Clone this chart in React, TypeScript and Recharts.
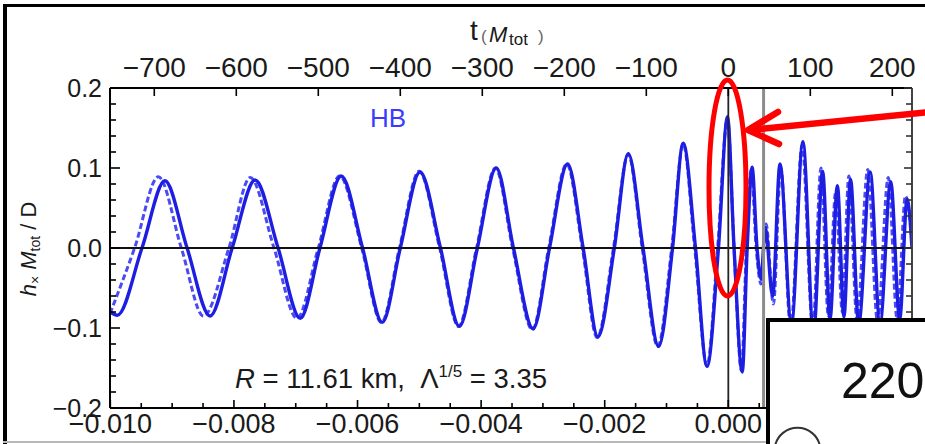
import React from "react";
import { LineChart, Line, XAxis, YAxis, ReferenceLine } from "recharts";

// 時間軸: 上は t (M_tot), 下は秒。同じ座標を共有する
const SEC_PER_M = 1.327e-5;
const T_DOMAIN: [number, number] = [-754, 224];
const H_DOMAIN: [number, number] = [-0.2, 0.2];

const topTicks = [-700, -600, -500, -400, -300, -200, -100, 0, 100, 200];
const topLabels = ["\u2212700", "\u2212600", "\u2212500", "\u2212400", "\u2212300", "\u2212200", "\u2212100", "0", "100", "200"];

const bottomTicksSec = [
  -0.01, -0.0095, -0.009, -0.0085, -0.008, -0.0075, -0.007, -0.0065, -0.006, -0.0055, -0.005,
  -0.0045, -0.004, -0.0035, -0.003, -0.0025, -0.002, -0.0015, -0.001, -0.0005, 0, 0.0005, 0.001,
  0.0015, 0.002,
];
const bottomMajorSec = [-0.01, -0.008, -0.006, -0.004, -0.002, 0, 0.002];
const bottomLabels = ["\u22120.010", "\u22120.008", "\u22120.006", "\u22120.004", "\u22120.002", "0.000", "0.002"];

const yTicks = [
  -0.2, -0.18, -0.16, -0.14, -0.12, -0.1, -0.08, -0.06, -0.04, -0.02, 0, 0.02, 0.04, 0.06, 0.08,
  0.1, 0.12, 0.14, 0.16, 0.18, 0.2,
];
const yMajor = [-0.2, -0.1, 0, 0.1, 0.2];
const yLabels = ["\u22120.2", "\u22120.1", "0.0", "0.1", "0.2"];

// 実線の波形 (t, h)
const solidT = [
  -754, -745, -715, -687, -660, -632, -605, -577, -549, -522, -498, -472, -446, -422, -400, -376,
  -351, -328, -306, -283, -262, -238, -218, -196, -177, -159, -139, -122, -104, -85, -68, -55, -40,
  -26, -12, -1, 7, 17, 23, 29, 35, 40, 45, 54, 63, 77, 91, 104, 115, 124, 133, 141, 149, 159, 173,
  185, 198, 209, 218, 224,
];
const solidH = [
  -0.08, -0.084, 0, 0.084, 0, -0.085, 0, 0.085, 0, -0.088, 0, 0.09, 0, -0.093, 0, 0.095, 0, -0.098,
  0, 0.1, 0, -0.101, 0, 0.105, 0, -0.111, 0, 0.118, 0, -0.123, 0, 0.131, 0, -0.148, 0, 0.164, 0,
  -0.155, 0, 0.101, 0, -0.039, 0.026, -0.06, 0.105, -0.095, 0.133, -0.107, 0.096, -0.089, 0.078,
  -0.086, 0.086, -0.095, 0.095, -0.095, 0.083, -0.089, 0.061, 0,
];

// 点線の波形 (t, h)
const dashedT = [
  -754, -724, -695, -667, -640, -609, -583, -554, -526, -500, -474, -447, -423, -401, -377, -352,
  -329, -307, -284, -263, -239, -219, -197, -178, -160, -140, -122, -105, -86, -69, -55, -41, -26,
  -13, -1, 7, 16, 22, 28, 34, 40, 46, 55, 64, 76, 90, 103, 113, 122, 131, 139, 147, 157, 170, 182,
  195, 206, 216, 224,
];
const dashedH = [
  -0.082, 0, 0.089, 0, -0.085, 0, 0.088, 0, -0.088, 0, 0.09, 0, -0.093, 0, 0.096, 0, -0.098, 0, 0.1,
  0, -0.102, 0, 0.105, 0, -0.112, 0, 0.117, 0, -0.123, 0, 0.13, 0, -0.147, 0, 0.162, 0, -0.153, 0,
  0.098, 0, -0.045, 0.03, -0.07, 0.1, -0.1, 0.128, -0.1, 0.1, -0.085, 0.07, -0.08, 0.09, -0.09,
  0.098, -0.092, 0.088, -0.09, 0.065, 0.01,
];

const solidData = solidT.map((t, i) => ({ t, h: solidH[i] }));
const dashedData = dashedT.map((t, i) => ({ t, h: dashedH[i] }));

const FONT = "'Liberation Sans', Arial, Helvetica, sans-serif";
const TXT = "#1a1a1a";

const TopTick = (p: any) => {
  const { x, y, payload } = p;
  const i = topTicks.indexOf(payload.value);
  return (
    <g>
      <line x1={x} x2={x} y1={y} y2={y + 8} stroke="#000" strokeWidth={1.6} />
      <text x={x} y={y - 11} textAnchor="middle" fontSize={28} fontFamily={FONT} fill={TXT}>
        {i >= 0 ? topLabels[i] : ""}
      </text>
    </g>
  );
};

const BottomTick = (p: any) => {
  const { x, y, payload } = p;
  const s = payload.value * SEC_PER_M;
  const j = bottomMajorSec.findIndex((m) => Math.abs(m - s) < 1e-7);
  const major = j >= 0;
  return (
    <g>
      <line x1={x} x2={x} y1={y} y2={y - (major ? 8 : 5)} stroke="#000" strokeWidth={1.6} />
      {major && (
        <text x={x} y={y + 25} textAnchor="middle" fontSize={27} fontFamily={FONT} fill={TXT}>
          {bottomLabels[j]}
        </text>
      )}
    </g>
  );
};

const LeftTick = (p: any) => {
  const { x, y, payload } = p;
  const j = yMajor.indexOf(payload.value);
  const major = j >= 0;
  return (
    <g>
      <line x1={x} x2={x + (major ? 10 : 6)} y1={y} y2={y} stroke="#000" strokeWidth={1.6} />
      {major && (
        <text x={x - 8} y={y + 9} textAnchor="end" fontSize={25} fontFamily={FONT} fill={TXT}>
          {yLabels[j]}
        </text>
      )}
    </g>
  );
};

const RightTick = (p: any) => {
  const { x, y, payload } = p;
  const major = yMajor.indexOf(payload.value) >= 0;
  return <line x1={x} x2={x - (major ? 8 : 6)} y1={y} y2={y} stroke="#333" strokeWidth={1.6} />;
};

const App = () => {
  return (
    <div style={{ position: "absolute", left: 0, top: 0, width: 925, height: 444, background: "#fff" }}>
      <LineChart width={925} height={444} margin={{ top: 48, right: 3, bottom: 6, left: 50 }}>
        <XAxis
          xAxisId="top"
          orientation="top"
          type="number"
          dataKey="t"
          domain={T_DOMAIN}
          allowDataOverflow
          ticks={topTicks}
          interval={0}
          height={40}
          tickSize={0}
          tickMargin={0}
          tickLine={false}
          axisLine={{ stroke: "#000", strokeWidth: 2 }}
          tick={<TopTick />}
        />
        <XAxis
          xAxisId="bottom"
          orientation="bottom"
          type="number"
          dataKey="t"
          domain={T_DOMAIN}
          allowDataOverflow
          ticks={bottomTicksSec.map((s) => s / SEC_PER_M)}
          interval={0}
          height={30}
          tickSize={0}
          tickMargin={0}
          tickLine={false}
          axisLine={{ stroke: "#000", strokeWidth: 2 }}
          tick={<BottomTick />}
        />
        <YAxis
          yAxisId="left"
          orientation="left"
          type="number"
          domain={H_DOMAIN}
          allowDataOverflow
          ticks={yTicks}
          interval={0}
          width={60}
          tickSize={0}
          tickMargin={0}
          tickLine={false}
          axisLine={{ stroke: "#000", strokeWidth: 2 }}
          tick={<LeftTick />}
        />
        <YAxis
          yAxisId="right"
          orientation="right"
          type="number"
          domain={H_DOMAIN}
          allowDataOverflow
          ticks={yTicks}
          interval={0}
          width={10}
          tickSize={0}
          tickMargin={0}
          tickLine={false}
          axisLine={{ stroke: "#444", strokeWidth: 2 }}
          tick={<RightTick />}
        />
        <Line
          xAxisId="bottom"
          yAxisId="right"
          data={dashedData}
          dataKey="h"
          type="monotone"
          stroke="#4b4bf6"
          strokeWidth={3}
          strokeDasharray="6 3"
          dot={false}
          isAnimationActive={false}
        />
        <Line
          xAxisId="top"
          yAxisId="left"
          data={solidData}
          dataKey="h"
          type="monotone"
          stroke="#1e1ee2"
          strokeWidth={3.4}
          dot={false}
          isAnimationActive={false}
        />
        <ReferenceLine xAxisId="top" yAxisId="left" y={0} stroke="#111" strokeWidth={1.8} />
        <ReferenceLine xAxisId="top" yAxisId="left" x={0} stroke="#222" strokeWidth={1.8} />
        <ReferenceLine xAxisId="top" yAxisId="left" x={43} stroke="#8c8c8c" strokeWidth={3} />
      </LineChart>

      <svg
        width={925}
        height={444}
        style={{ position: "absolute", left: 0, top: 0, pointerEvents: "none" }}
        fontFamily={FONT}
      >
        {/* 外枠 */}
        <line x1={5} y1={4} x2={5} y2={444} stroke="#000" strokeWidth={4} />
        <line x1={3} y1={5.5} x2={925} y2={5.5} stroke="#000" strokeWidth={3} />
        <line x1={3} y1={442} x2={925} y2={442} stroke="#b8b8b8" strokeWidth={2} />

        {/* タイトル t (M_tot) */}
        <text x={470} y={40} fontSize={28} fill={TXT}>t</text>
        <text x={481} y={42} fontSize={17} fill="#666">(</text>
        <text x={489} y={42} fontSize={22} fontStyle="italic" fill={TXT}>M</text>
        <text x={509} y={45} fontSize={17} fill={TXT}>tot</text>
        <text x={538} y={42} fontSize={17} fill="#666">)</text>

        {/* 縦軸ラベル */}
        <text transform="translate(36,249) rotate(-90)" textAnchor="middle" fontSize={22} fill={TXT} style={{ whiteSpace: "pre" }}>
          <tspan fontStyle="italic">h</tspan>
          <tspan fontSize={14} dy={4}>{"\u00d7"}</tspan>
          <tspan dy={-4}> </tspan>
          <tspan fontStyle="italic">M</tspan>
          <tspan fontSize={14} dy={4}>tot</tspan>
          <tspan dy={-4}>{" / D"}</tspan>
        </text>

        <text x={370} y={127} fontSize={26} fill="#3b3bff">HB</text>

        <text x={235} y={388} fontSize={27.5} fill={TXT} style={{ whiteSpace: "pre" }}>
          <tspan fontStyle="italic">R</tspan>
          <tspan>{" = 11.61 km,  \u039b"}</tspan>
          <tspan fontSize={17} dy={-11}>1/5</tspan>
          <tspan dy={11}>{" = 3.35"}</tspan>
        </text>

        {/* 赤い楕円と矢印 */}
        <ellipse cx={727.5} cy={188} rx={18.5} ry={108} fill="none" stroke="#ff0000" strokeWidth={5} />
        <line x1={930} y1={112} x2={750} y2={130} stroke="#ff0000" strokeWidth={6.5} strokeLinecap="round" />
        <polyline points="778,112 748,130 779,144" fill="none" stroke="#ff0000" strokeWidth={6.5} strokeLinecap="round" strokeLinejoin="round" />

        {/* 右下の挿入枠 */}
        <rect x={768} y={320} width={200} height={160} fill="#fff" stroke="#000" strokeWidth={4} />
        <text x={841} y={398} fontSize={50} fill="#111">2200</text>
        <path d="M 775 446 A 23 23 0 0 1 820 446" fill="none" stroke="#333" strokeWidth={2} />
      </svg>
    </div>
  );
};

export default App;
